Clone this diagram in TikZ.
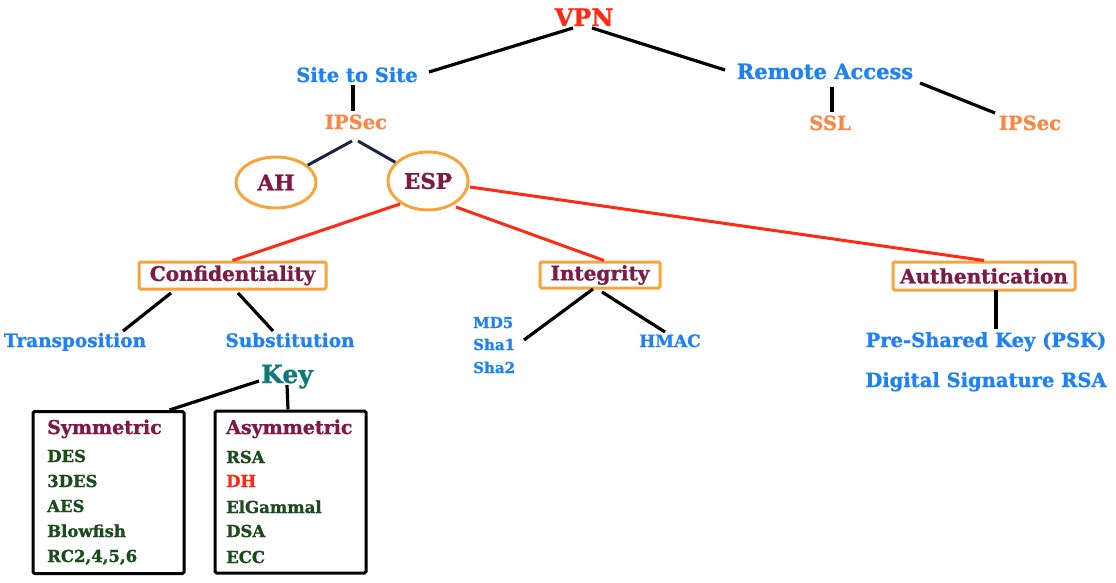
\documentclass[tikz,border=0pt]{standalone}
\usepackage{fontspec}
\setmainfont{DejaVu Serif}[BoldFeatures={FakeBold=1.2}]
\usetikzlibrary{shapes.geometric,calc}
\definecolor{vred}{HTML}{FF2A14}
\definecolor{vblue}{HTML}{1E82F5}
\definecolor{vorange}{HTML}{F58A48}
\definecolor{vbord}{HTML}{F5A53C}
\definecolor{vmaroon}{HTML}{7D1A45}
\definecolor{vgreen}{HTML}{1B4A1B}
\definecolor{vteal}{HTML}{11787A}
\definecolor{vnavy}{HTML}{1C2444}
\newcommand{\fs}[1]{\fontsize{#1}{#1}\selectfont\bfseries}
\tikzset{
  txt/.style={inner sep=0pt, anchor=base},
  lft/.style={inner sep=0pt, anchor=base west},
  bluet/.style={txt, text=vblue},
  oranget/.style={txt, text=vorange},
  obox/.style={draw=vbord, line width=3pt, fill=white, rounded corners=1.5pt, inner sep=0pt, text=vmaroon, font=\fs{20}},
  oell/.style={ellipse, draw=vbord, line width=3pt, inner sep=0pt, text=vmaroon, font=\fs{21.5}},
  kbox/.style={draw=black, line width=3pt, rounded corners=1.5pt, inner sep=0pt, minimum width=151pt, minimum height=162pt},
  bl/.style={line width=3.2pt, black},
  rl/.style={line width=3pt, vred},
  nl/.style={line width=3pt, vnavy},
  gt/.style={lft, text=vgreen, font=\fs{16.5}},
}
\begin{document}
\begin{tikzpicture}[x=1pt,y=-1pt]
\useasboundingbox (0,0) rectangle (1116,583);
% top
\node[txt, text=vred, font=\fs{24}] (vpn) at (584,26) {VPN};
\node[bluet, font=\fs{19.5}] (sts) at (357,82) {Site to Site};
\node[bluet, font=\fs{21}] (ra) at (825,79) {Remote Access};
\node[oranget, font=\fs{19.5}] (ipl) at (356,129) {IPSec};
\node[oranget, font=\fs{19.5}] (ssl) at (830,130) {SSL};
\node[oranget, font=\fs{19.5}] (ipr) at (1030,130) {IPSec};
\node[oell, minimum width=80pt, minimum height=51pt] (ah) at (276,182.5) {AH};
\node[oell, minimum width=80pt, minimum height=58pt] (esp) at (428,181) {ESP};
% level boxes
\node[obox, minimum width=187pt, minimum height=27pt] (conf) at (232.5,275.5) {Confidentiality};
\node[obox, minimum width=120pt, minimum height=26pt] (int) at (600,275) {Integrity};
\node[obox, minimum width=182pt, minimum height=28pt] (auth) at (984,276) {Authentication};
% leaves
\node[bluet, font=\fs{18.5}] (trans) at (75,347) {Transposition};
\node[bluet, font=\fs{18.5}] (subst) at (290,347) {Substitution};
\node[lft, text=vblue, font=\fs{15}] (md5) at (473,328) {MD5};
\node[lft, text=vblue, font=\fs{15}] (sha1) at (473,350) {Sha1};
\node[lft, text=vblue, font=\fs{15}] (sha2) at (473,373) {Sha2};
\node[bluet, font=\fs{17}] (hmac) at (670,347) {HMAC};
\node[bluet, font=\fs{19.5}] (psk) at (986,347) {Pre-Shared Key (PSK)};
\node[bluet, font=\fs{19.5}] (dsr) at (986,387) {Digital Signature RSA};
\node[txt, text=vteal, font=\fs{25}] (key) at (287,383) {Key};
% key boxes
\node[kbox] (sym) at (108.5,492.5) {};
\node[kbox] (asym) at (290.5,492) {};
\node[lft, text=vmaroon, font=\fs{19}] (symt) at (47,434) {Symmetric};
\node[gt] (des) at (47,462) {DES};
\node[gt] (tdes) at (47,487) {3DES};
\node[gt] (aes) at (47,512) {AES};
\node[gt] (blow) at (47,537) {Blowfish};
\node[gt] (rc) at (47,562) {RC2,4,5,6};
\node[lft, text=vmaroon, font=\fs{19}] (asymt) at (226,434) {Asymmetric};
\node[gt] (rsa) at (226,463) {RSA};
\node[lft, text=vred, font=\fs{16.5}] (dh) at (226,487) {DH};
\node[gt] (elg) at (226,513) {ElGammal};
\node[gt] (dsa) at (226,537) {DSA};
\node[gt] (ecc) at (226,563) {ECC};
% connectors
\draw[bl] ([shift={(-11,2)}]vpn.base) -- ([shift={(72,-10)}]sts.base);
\draw[bl] ([shift={(8,2)}]vpn.base) -- ([shift={(-100,-9)}]ra.base);
\draw[bl] ([shift={(-4,3)}]sts.base) -- ([shift={(-3,-18)}]ipl.base);
\draw[bl] ([shift={(7,8)}]ra.base) -- ([shift={(2,-18)}]ssl.base);
\draw[bl] ([shift={(95,4)}]ra.base) -- ([shift={(-35,-17)}]ipr.base);
\draw[nl] ([shift={(-4,12)}]ipl.base) -- (ah);
\draw[nl] ([shift={(2,12)}]ipl.base) -- (esp);
\draw[rl] ([shift={(-28,23)}]esp.center) -- (conf.north);
\draw[rl] ([shift={(28,26)}]esp.center) -- ([shift={(4,0)}]int.north);
\draw[rl] ([shift={(42,6)}]esp.center) -- (auth.north);
\draw[bl] ([shift={(-61.5,17.5)}]conf.center) -- ([shift={(48,-16)}]trans.base);
\draw[bl] ([shift={(5.5,17.5)}]conf.center) -- ([shift={(-17,-16)}]subst.base);
\draw[bl] ([shift={(-7,14)}]int.center) -- ([shift={(51,-10)}]sha1.base west);
\draw[bl] ([shift={(2,17)}]int.center) -- ([shift={(-5,-15)}]hmac.base);
\draw[bl] ([shift={(12,14)}]auth.center) -- ([shift={(10,-18)}]psk.base);
\draw[bl] ([shift={(-28,-2)}]key.base) -- ([shift={(-16,0)}]sym.north east);
\draw[bl] ([shift={(0,2)}]key.base) -- ([shift={(-2.5,0)}]asym.north);
\end{tikzpicture}
\end{document}
